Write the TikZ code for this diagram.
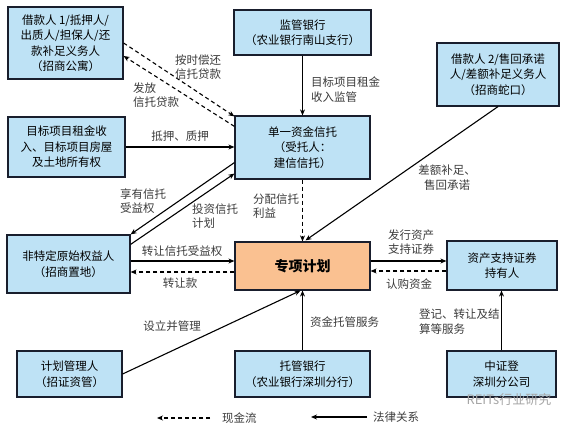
\documentclass[tikz,border=0pt]{standalone}
\usepackage{fontspec}
\setmainfont{Noto Sans CJK SC}
\usetikzlibrary{arrows.meta,calc}
\definecolor{boxblue}{RGB}{190,226,245}
\definecolor{boxorange}{RGB}{250,193,145}
\definecolor{lbl}{RGB}{60,60,60}
\definecolor{edge}{RGB}{25,30,45}
\begin{document}
\begin{tikzpicture}[x=1pt,y=-1pt,
 box/.style={draw=edge, line width=1.2pt, fill=boxblue, align=center, inner sep=0pt, font=\fontsize{11.5}{15.5}\selectfont},
 lab/.style={text=lbl, font=\fontsize{11.5}{14.5}\selectfont, inner sep=0pt},
 conn/.style={draw=black, line width=1.1pt, -{Stealth[length=6pt,width=5pt]}},
 cash/.style={conn, dash pattern=on 4pt off 3pt}]
\useasboundingbox[fill=white] (0,0) rectangle (568,430);

% boxes
\node[box, minimum width=115pt, minimum height=72pt] (b1) at (65.5,43) {借款人 1/抵押人/\\出质人/担保人/还\\款补足义务人\\（招商公寓）};
\node[box, minimum width=137pt, minimum height=45pt] (sup) at (302.5,32.5) {监管银行\\（农业银行南山支行）};
\node[box, minimum width=122pt, minimum height=63pt] (b2) at (498,74.5) {借款人 2/售回承诺\\人/差额补足义务人\\（招商蛇口）};
\node[box, minimum width=117pt, minimum height=60pt] (tgt) at (66.5,147) {目标项目租金收\\入、目标项目房屋\\及土地所有权};
\node[box, minimum width=135pt, minimum height=63pt] (trust) at (302.5,147.5) {单一资金信托\\（受托人：\\建信信托）};
\node[box, minimum width=123pt, minimum height=58pt] (ns) at (68.5,264) {非特定原始权益人\\（招商置地）};
\node[box, fill=boxorange, minimum width=135pt, minimum height=48pt, font=\fontsize{14}{16}\selectfont\bfseries] (plan) at (302.5,266) {专项计划};
\node[box, minimum width=110pt, minimum height=49pt] (abs) at (502,265.5) {资产支持证券\\持有人};
\node[box, minimum width=105pt, minimum height=46pt] (mgr) at (69.5,374) {计划管理人\\（招证资管）};
\node[box, minimum width=135pt, minimum height=46pt] (cust) at (302.5,374) {托管银行\\（农业银行深圳分行）};
\node[box, minimum width=109pt, minimum height=46pt] (csdc) at (501.5,374) {中证登\\深圳分公司};

% connectors
\draw[cash] (b1.east) -- ([yshift=-1pt]trust.north west);
\draw[cash] ([yshift=-11pt]trust.north west) -- ([yshift=-13pt]b1.east);
\draw[conn] (sup.south) -- (trust.north);
\draw[conn] (tgt.east) -- (tgt.east -| trust.west);
\draw[conn] ([yshift=17pt]trust.south west) -- (ns.north east);
\draw[conn] ([yshift=-10pt]ns.north east) -- ([yshift=6pt]trust.south west);
\draw[cash] (trust.south) -- (plan.north);
\draw[conn] (b2.south) -- ([xshift=3pt,yshift=1pt]plan.north);
\draw[conn] ([yshift=3pt]ns.east) -- ([yshift=3pt]ns.east -| plan.west);
\draw[cash] ([yshift=-8pt]ns.east -| plan.west) -- ([yshift=-8pt]ns.east);
\draw[conn] ([yshift=5pt]plan.east) -- ([yshift=5pt]plan.east -| abs.west);
\draw[cash] ([yshift=-5pt]plan.east -| abs.west) -- ([yshift=-5pt]plan.east);
\draw[conn] (mgr.east) -- ([xshift=-2pt]plan.south);
\draw[conn] (cust.north) -- (plan.south);
\draw[conn] (csdc.north) -- (csdc.north |- abs.south);

% labels
\node[lab, align=center] (l1) at (198,67) {按时偿还\\信托贷款};
\node[lab, align=left, anchor=west] (l2) at (133,95) {发放\\信托贷款};
\node[lab, align=left, anchor=west] (l3) at (311,89.5) {目标项目租金\\收入监管};
\node[lab] (l4) at (180,136) {抵押、质押};
\node[lab, align=left, anchor=west] (l5) at (120,201) {享有信托\\受益权};
\node[lab, align=left, anchor=west] (l6) at (192,216) {投资信托\\计划};
\node[lab, align=left, anchor=west] (l7) at (253,206) {分配信托\\利益};
\node[lab, align=center] (l8) at (447,177.5) {差额补足、\\售回承诺};
\node[lab] (l9) at (182,251) {转让信托受益权};
\node[lab] (l10) at (180,283) {转让款};
\node[lab, align=center] (l11) at (411,242) {发行资产\\支持证券};
\node[lab] (l12) at (409,284) {认购资金};
\node[lab] (l13) at (172,326) {设立并管理};
\node[lab, anchor=west] (l14) at (310,322) {资金托管服务};
\node[lab, align=left, anchor=west] (l15) at (419,321.5) {登记、转让及结\\算等服务};

% legend
\coordinate (c1s) at (210,418);
\coordinate (c1e) at (157,418);
\draw[cash] (c1s) -- (c1e);
\node[lab, anchor=west] (lg1) at (222,418) {现金流};
\coordinate (c2s) at (367,417);
\coordinate (c2e) at (311,417);
\draw[conn] (c2s) -- (c2e);
\node[lab, anchor=west] (lg2) at (373,417) {法律关系};

% watermark
\node[text=black!35, font=\fontsize{13}{15}\selectfont, anchor=west] (wm) at (463,400) {REITs行业研究};
\end{tikzpicture}
\end{document}
